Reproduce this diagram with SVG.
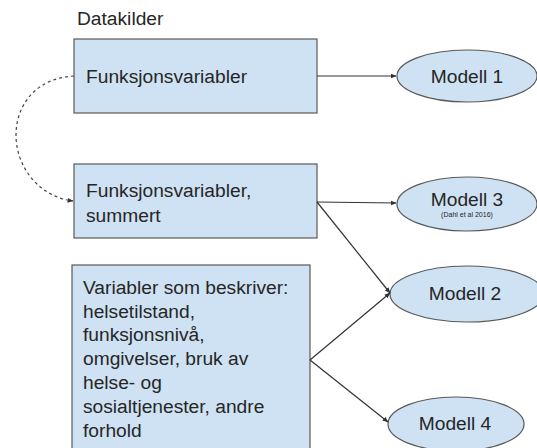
<svg xmlns="http://www.w3.org/2000/svg" width="537" height="448" viewBox="0 0 537 448">
<style>
.box{fill:#cfe2f3;stroke:#595959;stroke-width:1.2}
.ell{fill:#cfe2f3;stroke:#595959;stroke-width:1.2}
.t{font-family:"Liberation Sans",Arial,sans-serif;font-size:19.2px;fill:#262626}
.s{font-family:"Liberation Sans",Arial,sans-serif;font-size:7px;fill:#262626}
.c{fill:none;stroke:#333;stroke-width:1.2}
.d{fill:none;stroke:#444;stroke-width:1.2;stroke-dasharray:3,3}
</style>
<defs>
<marker id="ah" viewBox="0 0 10 10" refX="9" refY="5" markerWidth="5" markerHeight="5" orient="auto">
<path d="M0,1 L10,5 L0,9 z" fill="#333"/>
</marker>
</defs>
<rect width="537" height="448" fill="#fff"/>
<text class="t" x="77" y="25">Datakilder</text>
<g id="box1">
<rect class="box" x="74" y="39" width="243" height="74"/>
<text class="t" x="86" y="83">Funksjonsvariabler</text>
</g>
<g id="box2">
<rect class="box" x="74" y="164" width="243" height="74"/>
<text class="t" x="86" y="197">Funksjonsvariabler,</text>
<text class="t" x="86" y="222">summert</text>
</g>
<g id="box3">
<rect class="box" x="72" y="265" width="238" height="190"/>
<text class="t" x="83" y="294">Variabler som beskriver:</text>
<text class="t" x="83" y="318">helsetilstand,</text>
<text class="t" x="83" y="341">funksjonsnivå,</text>
<text class="t" x="83" y="365">omgivelser, bruk av</text>
<text class="t" x="83" y="389">helse- og</text>
<text class="t" x="83" y="413">sosialtjenester, andre</text>
<text class="t" x="83" y="437">forhold</text>
</g>
<g id="modell1">
<ellipse class="ell" cx="467" cy="76" rx="70" ry="26"/>
<text class="t" x="467" y="83" text-anchor="middle">Modell 1</text>
</g>
<g id="modell3">
<ellipse class="ell" cx="467" cy="204" rx="70" ry="27"/>
<text class="t" x="467" y="206" text-anchor="middle">Modell 3</text>
<text class="s" x="467" y="217" text-anchor="middle">(Dahl et al 2016)</text>
</g>
<g id="modell2">
<ellipse class="ell" cx="467" cy="294" rx="77" ry="28"/>
<text class="t" x="465" y="300" text-anchor="middle">Modell 2</text>
</g>
<g id="modell4">
<ellipse class="ell" cx="456" cy="424" rx="68" ry="27"/>
<text class="t" x="455" y="430" text-anchor="middle">Modell 4</text>
</g>
<g id="connectors">
<path class="c" d="M317,76 L396,76" marker-end="url(#ah)"/>
<path class="c" d="M317,202 L396,203" marker-end="url(#ah)"/>
<path class="c" d="M317,202 L390,293" marker-end="url(#ah)"/>
<path class="c" d="M310,360 L390,293" marker-end="url(#ah)"/>
<path class="c" d="M310,360 L388,422" marker-end="url(#ah)"/>
<path class="d" d="M74,76 C36,78 16,105 16,135 C16,168 40,197 73,201" marker-end="url(#ah)"/>
</g>
</svg>
